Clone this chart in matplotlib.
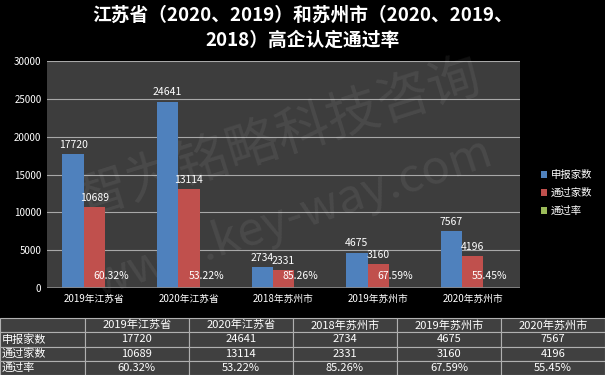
import numpy as np
import matplotlib
matplotlib.use("Agg")
import matplotlib.pyplot as plt

plt.rcParams['font.family'] = ['Noto Sans CJK SC', 'DejaVu Sans']

categories = ['2019年江苏省', '2020年江苏省', '2018年苏州市', '2019年苏州市', '2020年苏州市']
applied = [17720, 24641, 2734, 4675, 7567]
passed = [10689, 13114, 2331, 3160, 4196]
rate = [60.32, 53.22, 85.26, 67.59, 55.45]
series_names = ['申报家数', '通过家数', '通过率']
colors = ['#4f81bd', '#c0504d', '#9bbb59']
yticks = [0, 5000, 10000, 15000, 20000, 25000, 30000]

fig = plt.figure(figsize=(6.05, 3.75), dpi=100)
fig.patch.set_facecolor('black')

ax = fig.add_axes([0.0777, 0.232, 0.782, 0.605])
ax.set_facecolor('#3d3d3d')

x = np.arange(len(categories))
w = 0.225
b1 = ax.bar(x - w, applied, w, color=colors[0], label=series_names[0], zorder=3)
b2 = ax.bar(x, passed, w, color=colors[1], label=series_names[1], zorder=3)
# pass rate as a raw value on the count axis -> flat green sliver
b3 = ax.bar(x + w, [r / 100 for r in rate], w, color=colors[2],
            label=series_names[2], zorder=3)

for bar, v in zip(b1, applied):
    ax.annotate(str(v), (bar.get_x() + bar.get_width() / 2, v), xytext=(0, 3),
                textcoords='offset points', ha='center', va='bottom',
                color='white', fontsize=7.5)
for bar, v in zip(b2, passed):
    ax.annotate(str(v), (bar.get_x() + bar.get_width() / 2, v), xytext=(0, 3),
                textcoords='offset points', ha='center', va='bottom',
                color='white', fontsize=7.5)
for bar, v in zip(b3, rate):
    ax.annotate('%.2f%%' % v, (bar.get_x() + bar.get_width() / 2, 0), xytext=(-3, 5),
                textcoords='offset points', ha='center', va='bottom',
                color='white', fontsize=7.5)

ax.set_xlim(-0.5, len(categories) - 0.5)
ax.set_ylim(0, 30000)
ax.set_yticks(yticks)
ax.set_yticklabels([str(t) for t in yticks], color='white', fontsize=7)
ax.set_xticks(x)
ax.set_xticklabels(categories, color='white', fontsize=7)
ax.tick_params(length=0, pad=4)
ax.grid(axis='y', color='#a8a8a8', linewidth=0.8, zorder=0)
for s in ax.spines.values():
    s.set_visible(False)
ax.axhline(0, color='#8a8a8a', linewidth=1.2, zorder=4)

# watermark
ax.text(0.49, 0.66, '智为铭略科技咨询', transform=ax.transAxes, rotation=17.5,
        ha='center', va='center', fontsize=38, color='white', alpha=0.07, zorder=2)
ax.text(0.52, 0.31, 'www.key-way.com', transform=ax.transAxes, rotation=18.5,
        ha='center', va='center', fontsize=34, color='white', alpha=0.07, zorder=2)

leg = fig.legend(loc='center left', bbox_to_anchor=(0.878, 0.485), frameon=False,
                 fontsize=7.5, handlelength=0.6, handleheight=0.6, handletextpad=0.4,
                 labelspacing=0.75)
for t in leg.get_texts():
    t.set_color('white')

fig.text(0.5, 0.958, '江苏省（2020、2019）和苏州市（2020、2019、', ha='center', va='center',
         color='white', fontsize=13.5, fontweight='bold')
fig.text(0.5, 0.892, '2018）高企认定通过率', ha='center', va='center',
         color='white', fontsize=13.5, fontweight='bold')

# data table below
tax = fig.add_axes([0, 0, 1, 0.152])
tax.axis('off')
cell_text = [[series_names[0]] + [str(v) for v in applied],
             [series_names[1]] + [str(v) for v in passed],
             [series_names[2]] + ['%.2f%%' % v for v in rate]]
tbl = tax.table(cellText=cell_text, colLabels=[''] + categories,
                bbox=[0, 0, 1, 1], cellLoc='center')
tbl.auto_set_font_size(False)
first_w = 0.14
col_w = (1 - first_w) / 5
for (r, c), cell in tbl.get_celld().items():
    cell.set_facecolor('#404040')
    cell.set_edgecolor('#b0b0b0')
    cell.set_linewidth(0.8)
    cell.get_text().set_color('white')
    cell.get_text().set_fontsize(8)
    if c == 0:
        cell.set_width(first_w)
        cell.get_text().set_ha('left')
        cell.PAD = 0.02
    else:
        cell.set_width(col_w)

fig.savefig('out.png', dpi=100, facecolor=fig.get_facecolor())
